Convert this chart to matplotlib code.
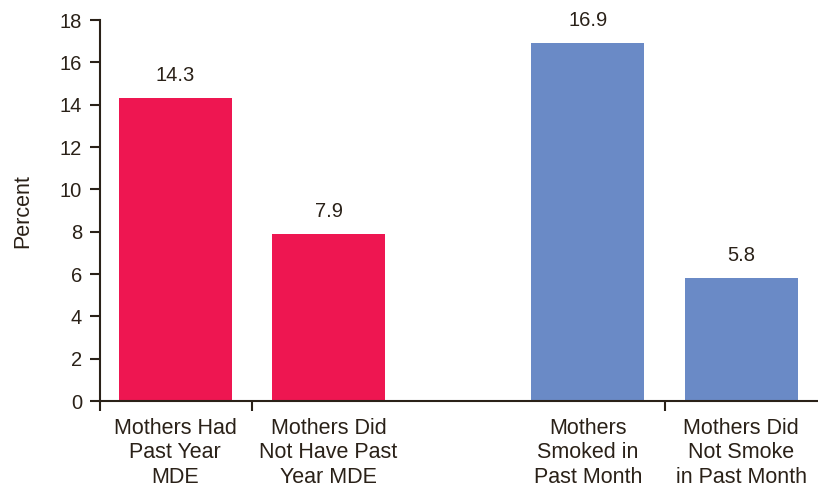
import matplotlib
matplotlib.use("Agg")
import matplotlib.pyplot as plt

categories = ["Mothers Had\nPast Year\nMDE",
              "Mothers Did\nNot Have Past\nYear MDE",
              "Mothers\nSmoked in\nPast Month",
              "Mothers Did\nNot Smoke\nin Past Month"]
values = [14.3, 7.9, 16.9, 5.8]
value_labels = ["14.3", "7.9", "16.9", "5.8"]
colors = ["#EE1651", "#EE1651", "#6A8AC6", "#6A8AC6"]

plt.rcParams["font.family"] = ["Liberation Sans", "DejaVu Sans"]
textcol = "#2a2118"

fig = plt.figure(figsize=(8.18, 4.88), dpi=100)
ax = fig.add_axes([0.1222, 0.178, 0.8778, 0.781])

xpos = [0, 1, 2.69, 3.69]
ax.bar(xpos, values, width=0.735, color=colors)

for x, v, t in zip(xpos, values, value_labels):
    ax.annotate(t, (x, v), xytext=(0, 9.5), textcoords="offset points",
                ha="center", va="bottom", fontsize=14.5, color=textcol)

ax.set_xlim(-0.49, 4.19)
ax.set_ylim(0, 18)
ax.set_yticks(range(0, 19, 2))
ax.set_xticks(xpos)
ax.set_xticklabels(categories, fontsize=15.5, color=textcol, linespacing=1.22)
ax.tick_params(axis="x", length=0, pad=12)
ax.set_xticks([-0.49, 0.5, 3.19], minor=True)
ax.tick_params(axis="x", which="minor", length=7, width=1.5, color=textcol)
ax.tick_params(axis="y", length=7, width=1.5, color=textcol, labelsize=14.5,
               labelcolor=textcol, pad=6)

for s in ["top", "right"]:
    ax.spines[s].set_visible(False)
for s in ["left", "bottom"]:
    ax.spines[s].set_color(textcol)
    ax.spines[s].set_linewidth(1.5)

ax.set_ylabel("Percent", fontsize=15.5, color=textcol, labelpad=19)

fig.savefig("out.png", dpi=100)
